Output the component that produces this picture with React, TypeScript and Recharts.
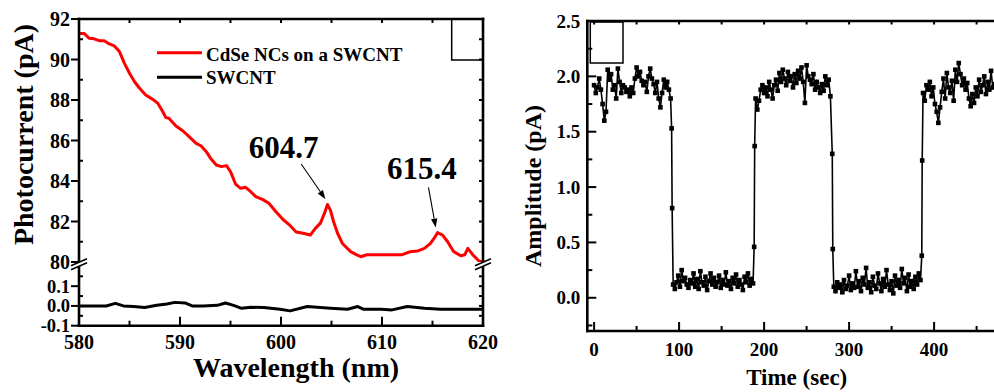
import React from 'react';
import { LineChart, Line, XAxis, YAxis, ReferenceArea, ReferenceLine, ReferenceDot, Legend } from 'recharts';

const FONT = '"Liberation Serif", "Times New Roman", Times, serif';

// ---------- Left panel: photocurrent spectra ----------
const cdseWavelengthNm = [
  580.0, 580.5, 581.0, 581.5, 582.0, 582.5, 583.0, 583.5, 584.0, 584.5, 585.0, 585.5, 586.0, 586.6,
  587.3, 587.8, 588.3, 588.6, 588.9, 589.6, 590.3, 590.9, 591.6, 592.1, 592.6, 593.1, 593.6, 594.1,
  594.6, 595.0, 595.5, 596.0, 596.5, 597.0, 597.5, 598.2, 598.8, 599.5, 600.2, 600.8, 601.5, 602.2,
  602.9, 603.4, 603.9, 604.3, 604.6, 604.9, 605.2, 605.6, 606.1, 606.9, 607.5, 607.9, 608.5, 609.2,
  610.0, 611.0, 612.0, 612.8, 613.5, 614.2, 614.8, 615.2, 615.5, 616.0, 616.5, 617.1, 617.8, 618.2,
  618.5, 619.0, 619.6, 620.0,
];
const cdsePhotocurrentPA = [
  91.29, 91.29, 91.05, 91.02, 90.93, 90.93, 90.77, 90.67, 90.39, 89.81, 89.32, 88.9, 88.58, 88.25,
  88.03, 87.84, 87.42, 87.13, 87.1, 86.72, 86.47, 86.19, 85.86, 85.73, 85.45, 85.07, 84.79, 84.71,
  84.76, 84.46, 83.85, 83.64, 83.69, 83.47, 83.23, 83.08, 82.9, 82.48, 82.1, 81.85, 81.48, 81.42,
  81.33, 81.66, 81.92, 82.4, 82.84, 82.55, 82.0, 81.42, 80.9, 80.51, 80.35, 80.26, 80.36, 80.36,
  80.36, 80.36, 80.36, 80.51, 80.54, 80.67, 80.92, 81.2, 81.45, 81.33, 81.0, 80.51, 80.31, 80.36,
  80.67, 80.35, 80.05, 80.0,
];
const swcntWavelengthNm = [
  580.0, 582.7, 583.6, 584.4, 585.4, 586.5, 587.7, 588.7, 589.5, 590.5, 591.2, 592.3, 593.7, 594.5,
  595.3, 596.1, 597.0, 598.3, 599.9, 600.9, 602.6, 604.9, 606.6, 607.6, 608.2, 609.9, 611.0, 612.5,
  614.2, 615.8, 618.1, 620.0,
];
const swcntPhotocurrentPA = [
  0.0, 0.0, 0.013, 0.0, -0.003, -0.008, 0.003, 0.01, 0.018, 0.015, 0.0, 0.0, 0.003, 0.015,
  0.003, -0.012, -0.007, -0.008, -0.017, -0.025, -0.003, -0.012, -0.017, -0.003, -0.017, -0.017, -0.02, -0.003,
  -0.012, -0.017, -0.017, -0.017,
];

const legendNames = ['CdSe NCs on a SWCNT', 'SWCNT'];
const legendColors = ['#ff0000', '#000000'];

const waveTicks = [580, 585, 590, 595, 600, 605, 610, 615, 620];
const waveLabels = [580, 590, 600, 610, 620];
const waveTopTicks = [585, 590, 595, 600, 605, 610, 615];
const upperTicks = [80, 81, 82, 83, 84, 85, 86, 87, 88, 89, 90, 91, 92];
const upperLabels = [80, 82, 84, 86, 88, 90, 92];
const lowerTicks = [-0.1, -0.05, 0, 0.05, 0.1, 0.15, 0.2];
const lowerLabels = [-0.1, 0, 0.1];
const rightUpperTicks = [81, 82, 83, 84, 85, 86, 87, 88, 89, 90, 91];
const rightLowerTicks = [-0.05, 0, 0.05, 0.1, 0.15, 0.2];

// peak annotations (data coordinates)
const peakNames = ['604.7', '615.4'];
const peakTextX = [600.25, 613.95];
const peakTextY = [85.14, 84.1];
const arrowFromX = [602.0, 614.6];
const arrowFromY = [84.84, 83.69];
const arrowToX = [604.4, 615.32];
const arrowToY = [83.1, 81.7];

// ---------- Right panel: on/off amplitude ----------
const sampleStepSec = 2;
const high1Start = 0;
const high1 = [
  1.92, 1.85, 1.9, 1.98, 1.88, 1.75, 1.6, 1.68, 2.06, 1.97, 2.02, 1.88, 1.92, 1.8, 2.07, 1.95,
  1.85, 1.92, 1.9, 1.86, 1.88, 1.82, 1.9, 1.85, 1.98, 2.08, 2.0, 2.04, 1.96, 1.92, 1.95, 1.86,
  2.0, 2.07, 1.98, 1.93, 1.85, 1.95, 1.8, 1.72, 1.85, 1.97, 1.9, 1.95, 1.88, 1.8,
];
const fall1Time = [91.2, 91.8];
const fall1Amp = [1.53, 0.81];
const low1Start = 93;
const low1 = [
  0.12, 0.08, 0.14, 0.2, 0.1, 0.25, 0.15, 0.18, 0.12, 0.09, 0.16, 0.13, 0.22, 0.1, 0.17, 0.08,
  0.24, 0.14, 0.11, 0.19, 0.07, 0.15, 0.22, 0.12, 0.18, 0.1, 0.14, 0.2, 0.09, 0.16, 0.12, 0.23,
  0.11, 0.15, 0.08, 0.18, 0.13, 0.21, 0.1, 0.16, 0.12, 0.07, 0.19, 0.14, 0.22, 0.11, 0.17, 0.13,
];
const rise1Time = [188.3, 188.9];
const rise1Amp = [0.46, 1.37];
const high2Start = 190;
const high2 = [
  1.8, 1.7, 1.78, 1.88, 1.92, 1.85, 1.9, 1.82, 1.95, 1.88, 1.8, 1.92, 1.97, 1.87, 2.03, 1.95,
  2.06, 1.98, 1.92, 2.04, 1.96, 2.0, 1.9, 2.02, 1.94, 2.05, 1.98, 2.08, 1.95, 1.76, 2.1, 2.0,
  1.97, 1.93, 2.02, 1.88, 1.95, 1.9, 1.85, 1.93, 1.87, 2.0, 1.92, 1.97, 1.82,
];
const fall2Time = [280.2, 280.8];
const fall2Amp = [1.3, 0.44];
const low2Start = 282;
const low2 = [
  0.1, 0.06, 0.14, 0.09, 0.12, 0.05, 0.16, 0.08, 0.11, 0.2, 0.07, 0.13, 0.09, 0.24, 0.1, 0.15,
  0.06, 0.18, 0.12, 0.27, 0.09, 0.14, 0.05, 0.19, 0.11, 0.08, 0.22, 0.13, 0.06, 0.17, 0.1, 0.25,
  0.12, 0.07, 0.15, 0.04, 0.2, 0.11, 0.16, 0.09, 0.26, 0.13, 0.18, 0.06, 0.21, 0.1, 0.15, 0.08,
  0.19, 0.12, 0.22, 0.16,
];
const rise2Time = [385.5, 386.0];
const rise2Amp = [0.38, 1.24];
const high3Start = 387;
const high3 = [
  1.85, 1.78, 1.92, 1.88, 1.95, 1.82, 1.9, 1.75, 1.68, 1.58, 1.72, 1.86, 1.98, 1.8, 2.03, 1.9,
  1.85, 1.96, 1.78, 2.06, 1.95, 2.12, 2.02, 1.92, 1.98, 1.88, 1.94, 1.8, 1.73, 1.84, 1.76, 1.9,
  1.82, 1.97, 1.86, 1.92, 2.0, 1.84, 1.95, 1.88, 2.05, 1.9, 1.93,
];

const timeTicks = [0, 50, 100, 150, 200, 250, 300, 350, 400, 450];
const timeLabels = [0, 100, 200, 300, 400];
const ampTicks = [-0.25, 0, 0.25, 0.5, 0.75, 1, 1.25, 1.5, 1.75, 2, 2.25, 2.5];
const ampLabels = [0, 0.5, 1, 1.5, 2, 2.5];

// ---------- data tables ----------
const cdseData = cdseWavelengthNm.map((x, i) => ({ x, y: cdsePhotocurrentPA[i] }));
const swcntData = swcntWavelengthNm.map((x, i) => ({ x, y: swcntPhotocurrentPA[i] }));
const seg = (start: number, vals: number[]) => vals.map((a, i) => ({ t: start + i * sampleStepSec, a }));
const pts = (ts: number[], as: number[]) => ts.map((t, i) => ({ t, a: as[i] }));
const ampData = [
  ...seg(high1Start, high1),
  ...pts(fall1Time, fall1Amp),
  ...seg(low1Start, low1),
  ...pts(rise1Time, rise1Amp),
  ...seg(high2Start, high2),
  ...pts(fall2Time, fall2Amp),
  ...seg(low2Start, low2),
  ...pts(rise2Time, rise2Amp),
  ...seg(high3Start, high3),
];

// ---------- tick renderer ----------
type TickCfg = {
  side: 'left' | 'right' | 'top' | 'bottom';
  labels?: number[];
  majorLen: number;
  minorLen: number;
  majorOut?: boolean;
  fontSize?: number;
  gap?: number;
  digits?: number;
  breakAt?: number;
};
const near = (a: number, b: number) => Math.abs(a - b) < 1e-6;

function makeTick(c: TickCfg) {
  return (props: any) => {
    const { x, y, payload } = props;
    const v = Number(payload.value);
    if (c.breakAt !== undefined && near(v, c.breakAt)) {
      const cy = y - 2.2;
      return (
        <g>
          <polygon
            points={`${x - 8},${cy + 1.5} ${x + 8},${cy - 5.5} ${x + 8},${cy - 1.5} ${x - 8},${cy + 5.5}`}
            fill="#fff"
          />
          <line x1={x - 8} y1={cy + 1.5} x2={x + 8} y2={cy - 5.5} stroke="#000" strokeWidth={1.6} />
          <line x1={x - 8} y1={cy + 5.5} x2={x + 8} y2={cy - 1.5} stroke="#000" strokeWidth={1.6} />
        </g>
      );
    }
    const isMajor = (c.labels ?? []).some((l) => near(l, v));
    const len = isMajor ? c.majorLen : c.minorLen;
    const out = isMajor && c.majorOut;
    let x2 = x;
    let y2 = y;
    if (c.side === 'left') x2 = out ? x - len : x + len;
    if (c.side === 'right') x2 = x - len;
    if (c.side === 'bottom') y2 = y - len;
    if (c.side === 'top') y2 = y + len;
    const txt = c.digits !== undefined ? v.toFixed(c.digits) : String(v);
    const fs = c.fontSize ?? 20;
    const gap = c.gap ?? 10;
    return (
      <g>
        <line x1={x} y1={y} x2={x2} y2={y2} stroke="#000" strokeWidth={2} />
        {isMajor && c.side === 'left' && (
          <text x={x - gap} y={y} dy="0.35em" textAnchor="end" fontFamily={FONT} fontWeight="bold" fontSize={fs} fill="#000">
            {txt}
          </text>
        )}
        {isMajor && c.side === 'bottom' && (
          <text x={x} y={y + gap} textAnchor="middle" fontFamily={FONT} fontWeight="bold" fontSize={fs} fill="#000">
            {txt}
          </text>
        )}
      </g>
    );
  };
}

const axisLineStyle = { stroke: '#000', strokeWidth: 2.6, strokeLinecap: 'square' as const };

const arrowShape = (p: any) => {
  const { x1, y1, x2, y2 } = p;
  const ang = Math.atan2(y2 - y1, x2 - x1);
  const L = 9;
  const W = 3.2;
  const bx = x2 - L * Math.cos(ang);
  const by = y2 - L * Math.sin(ang);
  const nx = -Math.sin(ang) * W;
  const ny = Math.cos(ang) * W;
  return (
    <g>
      <line x1={x1} y1={y1} x2={bx} y2={by} stroke="#000" strokeWidth={1.1} />
      <polygon points={`${x2},${y2} ${bx + nx},${by + ny} ${bx - nx},${by - ny}`} fill="#000" />
    </g>
  );
};

const LegendBox = () => (
  <svg width={270} height={52} style={{ display: 'block' }}>
    {legendNames.map((n, i) => (
      <g key={n}>
        <line x1={7} x2={52} y1={12.7 + i * 24.5} y2={12.7 + i * 24.5} stroke={legendColors[i]} strokeWidth={3} />
        <text x={56} y={20.7 + i * 23} fontFamily={FONT} fontWeight="bold" fontSize={19} fill="#000">
          {n}
        </text>
      </g>
    ))}
  </svg>
);

// Axes need a non-zero size to be drawn; each axis takes 1px, removed from the margins.
export default function App() {
  return (
    <div style={{ position: 'absolute', left: 0, top: 0, width: 994, height: 392, overflow: 'hidden', background: '#fff' }}>
      {/* Left panel, upper segment (80-92 pA) */}
      <div style={{ position: 'absolute', left: 0, top: 0 }}>
        <LineChart width={500} height={392} data={cdseData} margin={{ top: 18, left: 78, right: 16, bottom: 130 }}>
          <XAxis
            dataKey="x"
            type="number"
            orientation="top"
            domain={[580, 620]}
            ticks={waveTopTicks}
            interval={0}
            allowDataOverflow
            height={1}
            tickSize={0}
            tickMargin={0}
            tickLine={false}
            axisLine={axisLineStyle}
            tick={makeTick({ side: 'top', majorLen: 4, minorLen: 4 })}
          />
          <YAxis
            type="number"
            domain={[80, 92]}
            ticks={upperTicks}
            interval={0}
            allowDataOverflow
            width={1}
            tickSize={0}
            tickMargin={0}
            tickLine={false}
            axisLine={axisLineStyle}
            tick={makeTick({ side: 'left', labels: upperLabels, majorLen: 8, minorLen: 4, majorOut: true, gap: 9, fontSize: 20 })}
            label={(p: any) => {
              const vb = p.viewBox;
              const cx = vb.x + vb.width - 46;
              const cy = vb.y + vb.height / 2 - 6;
              return (
                <text x={cx} y={cy} transform={`rotate(-90 ${cx} ${cy})`} textAnchor="middle" fontFamily={FONT} fontWeight="bold" fontSize={28} fill="#000">
                  Photocurrent (pA)
                </text>
              );
            }}
          />
          <YAxis
            yAxisId="r"
            orientation="right"
            type="number"
            domain={[80, 92]}
            ticks={rightUpperTicks}
            interval={0}
            allowDataOverflow
            width={1}
            tickSize={0}
            tickMargin={0}
            tickLine={false}
            axisLine={axisLineStyle}
            tick={makeTick({ side: 'right', majorLen: 4, minorLen: 4 })}
          />
          <ReferenceArea x1={616.9} x2={620} y1={89.98} y2={92} fill="none" stroke="#000" strokeWidth={1.5} fillOpacity={0} ifOverflow="visible" />
          <Line dataKey="y" type="linear" stroke={legendColors[0]} strokeWidth={3} dot={false} isAnimationActive={false} strokeLinejoin="round" />
          {peakNames.map((n, i) => (
            <ReferenceLine
              key={`a${n}`}
              segment={[
                { x: arrowFromX[i], y: arrowFromY[i] },
                { x: arrowToX[i], y: arrowToY[i] },
              ]}
              shape={arrowShape}
              ifOverflow="visible"
            />
          ))}
          {peakNames.map((n, i) => (
            <ReferenceDot
              key={`t${n}`}
              x={peakTextX[i]}
              y={peakTextY[i]}
              r={0}
              ifOverflow="visible"
              shape={(p: any) => (
                <text x={p.cx} y={p.cy} textAnchor="middle" fontFamily={FONT} fontWeight="bold" fontSize={31} fill="#000">
                  {n}
                </text>
              )}
            />
          ))}
          <Legend
            layout="vertical"
            verticalAlign="middle"
            align="center"
            content={() => <LegendBox />}
            wrapperStyle={{ position: 'absolute', left: 150, top: 40, width: 270, height: 52 }}
          />
        </LineChart>
      </div>

      {/* Left panel, lower segment (-0.1-0.2 pA) */}
      <div style={{ position: 'absolute', left: 0, top: 0 }}>
        <LineChart width={500} height={392} data={swcntData} margin={{ top: 266.4, left: 78, right: 16, bottom: 65.3 }}>
          <XAxis
            dataKey="x"
            type="number"
            domain={[580, 620]}
            ticks={waveTicks}
            interval={0}
            allowDataOverflow
            height={1}
            tickSize={0}
            tickMargin={0}
            tickLine={false}
            axisLine={axisLineStyle}
            tick={makeTick({ side: 'bottom', labels: waveLabels, majorLen: 9, minorLen: 5, gap: 23.5, fontSize: 20 })}
            label={(p: any) => {
              const vb = p.viewBox;
              return (
                <text x={vb.x + vb.width / 2 + 15} y={vb.y + 51.5} textAnchor="middle" fontFamily={FONT} fontWeight="bold" fontSize={28} fill="#000">
                  Wavelength (nm)
                </text>
              );
            }}
          />
          <YAxis
            type="number"
            domain={[-0.1, 0.2]}
            ticks={lowerTicks}
            interval={0}
            allowDataOverflow
            width={1}
            tickSize={0}
            tickMargin={0}
            tickLine={false}
            axisLine={axisLineStyle}
            tick={makeTick({ side: 'left', labels: lowerLabels, majorLen: 8, minorLen: 4, majorOut: true, gap: 9, fontSize: 18.5, digits: 1, breakAt: 0.2 })}
          />
          <YAxis
            yAxisId="r"
            orientation="right"
            type="number"
            domain={[-0.1, 0.2]}
            ticks={rightLowerTicks}
            interval={0}
            allowDataOverflow
            width={1}
            tickSize={0}
            tickMargin={0}
            tickLine={false}
            axisLine={axisLineStyle}
            tick={makeTick({ side: 'right', majorLen: 4, minorLen: 4, breakAt: 0.2 })}
          />
          <Line dataKey="y" type="linear" stroke={legendColors[1]} strokeWidth={3} dot={false} isAnimationActive={false} strokeLinejoin="round" />
        </LineChart>
      </div>

      {/* Right panel: amplitude vs time */}
      <div style={{ position: 'absolute', left: 500, top: 0 }}>
        <LineChart width={520} height={392} data={ampData} margin={{ top: 20, left: 86.3, right: 17.9, bottom: 60 }}>
          <XAxis
            dataKey="t"
            type="number"
            domain={[-8, 480]}
            ticks={timeTicks}
            interval={0}
            allowDataOverflow
            height={1}
            tickSize={0}
            tickMargin={0}
            tickLine={false}
            axisLine={axisLineStyle}
            tick={makeTick({ side: 'bottom', labels: timeLabels, majorLen: 9, minorLen: 5, gap: 24.5, fontSize: 19 })}
            label={(p: any) => {
              const vb = p.viewBox;
              return (
                <text x={vb.x + vb.width / 2 + 2} y={vb.y + 54} textAnchor="middle" fontFamily={FONT} fontWeight="bold" fontSize={23} fill="#000">
                  Time (sec)
                </text>
              );
            }}
          />
          <XAxis
            xAxisId="top"
            dataKey="t"
            type="number"
            orientation="top"
            domain={[-8, 480]}
            ticks={timeTicks}
            interval={0}
            allowDataOverflow
            height={1}
            tickSize={0}
            tickMargin={0}
            tickLine={false}
            axisLine={axisLineStyle}
            tick={makeTick({ side: 'top', majorLen: 3.5, minorLen: 3.5 })}
          />
          <YAxis
            type="number"
            domain={[-0.3, 2.5]}
            ticks={ampTicks}
            interval={0}
            allowDataOverflow
            width={1}
            tickSize={0}
            tickMargin={0}
            tickLine={false}
            axisLine={axisLineStyle}
            tick={makeTick({ side: 'left', labels: ampLabels, majorLen: 9, minorLen: 5, gap: 7, fontSize: 19, digits: 1 })}
            label={(p: any) => {
              const vb = p.viewBox;
              const cx = vb.x + vb.width - 46;
              const cy = vb.y + vb.height / 2 + 10;
              return (
                <text x={cx} y={cy} transform={`rotate(-90 ${cx} ${cy})`} textAnchor="middle" fontFamily={FONT} fontWeight="bold" fontSize={24} fill="#000">
                  Amplitude (pA)
                </text>
              );
            }}
          />
          <ReferenceArea x1={-4.5} x2={34} y1={2.12} y2={2.49} fill="none" fillOpacity={0} stroke="#000" strokeWidth={1.5} ifOverflow="visible" />
          <Line
            dataKey="a"
            type="linear"
            stroke="#000"
            strokeWidth={1.6}
            isAnimationActive={false}
            dot={(p: any) => <rect key={`d${p.index}`} x={p.cx - 2.3} y={p.cy - 2.3} width={4.6} height={4.6} fill="#000" />}
          />
        </LineChart>
      </div>
    </div>
  );
}
